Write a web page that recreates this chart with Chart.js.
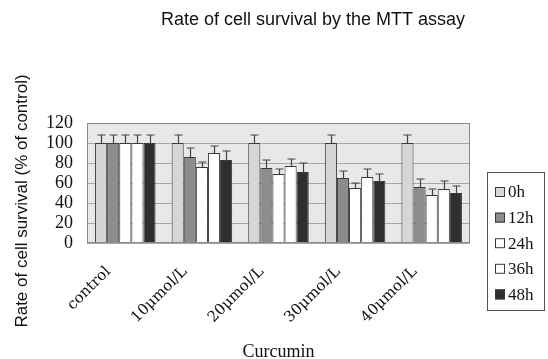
<!DOCTYPE html>
<html>
<head>
<meta charset="utf-8">
<script src="https://cdn.jsdelivr.net/npm/chart.js@4.4.1/dist/chart.umd.min.js"></script>
<style>
  html, body { margin: 0; padding: 0; background: #ffffff; }
  canvas { display: block; }
</style>
</head>
<body>
<canvas id="mttChart" width="548" height="359"></canvas>
<script>
const categories = ["control", "10\u03bcmol/L", "20\u03bcmol/L", "30\u03bcmol/L", "40\u03bcmol/L"];
const timeLabels = ["0h", "12h", "24h", "36h", "48h"];
const survival0h = [100, 100, 100, 100, 100];
const survival12h = [100, 86, 75, 65, 56];
const survival24h = [100, 76, 69, 55, 48];
const survival36h = [100, 90, 77, 66, 54];
const survival48h = [100, 83, 71, 62, 50];
const error0h = [8, 8, 8, 8, 8];
const error12h = [8, 9, 8, 7, 8];
const error24h = [8, 5, 5, 5, 6];
const error36h = [8, 7, 7, 8, 8];
const error48h = [8, 9, 9, 7, 7];
const yTicks = [0, 20, 40, 60, 80, 100, 120];

(function () {
  const edge = "#3a3a3a";
  const fills = ["#d6d6d6", "#8c8c8c", "#ffffff", "#ffffff", "#2f2f2f"];
  const series = [survival0h, survival12h, survival24h, survival36h, survival48h];
  const errors = [error0h, error12h, error24h, error36h, error48h];
  const serif = "'Liberation Serif', 'DejaVu Serif', serif";
  const tickSerif = "'DejaVu Serif', serif";
  const sans = "'Liberation Sans', Arial, sans-serif";

  const plotFrame = {
    id: "plotFrame",
    beforeDraw(chart) {
      const { ctx, chartArea: a } = chart;
      ctx.save();
      ctx.fillStyle = "#e8e8e8";
      ctx.fillRect(a.left, a.top, a.right - a.left, a.bottom - a.top);
      ctx.restore();
    },
    afterDraw(chart) {
      const { ctx, chartArea: a } = chart;
      ctx.save();
      ctx.strokeStyle = "#8a8a8a";
      ctx.lineWidth = 1;
      ctx.strokeRect(a.left + 0.5, a.top + 0.5, a.right - a.left - 1, a.bottom - a.top - 1);

      // chart title and y axis title
      ctx.fillStyle = "#111111";
      ctx.font = "18px " + sans;
      ctx.textAlign = "center";
      ctx.textBaseline = "middle";
      ctx.fillText("Rate of cell survival by the MTT assay", 313, 20);
      ctx.font = "17px " + sans;
      ctx.translate(22, 201);
      ctx.rotate(-Math.PI / 2);
      ctx.fillText("Rate of cell survival (% of control)", 0, 0);
      ctx.restore();

      // legend
      ctx.save();
      ctx.strokeStyle = "#555555";
      ctx.strokeRect(487.5, 172.5, 57, 138);
      ctx.font = "17px " + serif;
      ctx.textAlign = "left";
      ctx.textBaseline = "middle";
      timeLabels.forEach((lab, i) => {
        const y = 192 + i * 25.6;
        ctx.fillStyle = fills[i];
        ctx.fillRect(495, y - 5, 10, 10);
        ctx.strokeStyle = edge;
        ctx.strokeRect(495.5, y - 4.5, 9, 9);
        ctx.fillStyle = "#111111";
        ctx.fillText(lab, 508, y + 1);
      });
      ctx.restore();
    }
  };

  const errorBars = {
    id: "errorBars",
    afterDatasetsDraw(chart) {
      const { ctx } = chart;
      const yScale = chart.scales.y;
      ctx.save();
      ctx.strokeStyle = "#444444";
      ctx.lineWidth = 1.2;
      chart.data.datasets.forEach((ds, di) => {
        const meta = chart.getDatasetMeta(di);
        meta.data.forEach((bar, i) => {
          const top = yScale.getPixelForValue(ds.data[i] + errors[di][i]);
          const x = Math.round(bar.x) + 0.5;
          ctx.beginPath();
          ctx.moveTo(x, bar.y);
          ctx.lineTo(x, top);
          ctx.moveTo(x - 4, top);
          ctx.lineTo(x + 4, top);
          ctx.stroke();
        });
      });
      ctx.restore();
    }
  };

  new Chart(document.getElementById("mttChart").getContext("2d"), {
    type: "bar",
    data: {
      labels: categories,
      datasets: series.map((data, i) => ({
        label: timeLabels[i],
        data,
        backgroundColor: fills[i],
        borderColor: edge,
        borderWidth: 1,
        barPercentage: 1,
        categoryPercentage: 0.79
      }))
    },
    options: {
      responsive: false,
      animation: false,
      layout: { padding: { top: 123, right: 78, left: 0, bottom: 0 } },
      plugins: {
        legend: { display: false },
        tooltip: { enabled: false },
        title: { display: false }
      },
      scales: {
        x: {
          afterFit(scale) { scale.height = 116; },
          grid: { display: false },
          border: { display: false },
          title: {
            display: true,
            text: "Curcumin",
            color: "#111111",
            font: { family: serif, size: 18 },
            padding: { top: 0, bottom: -4 }
          },
          ticks: {
            color: "#111111",
            font: { family: tickSerif, size: 15 },
            minRotation: 45,
            maxRotation: 45,
            labelOffset: -17,
            padding: 12
          }
        },
        y: {
          min: 0,
          max: 120,
          afterFit(scale) { scale.width = 87; },
          afterBuildTicks(scale) { scale.ticks = yTicks.map(v => ({ value: v })); },
          grid: { color: "#a8a8a8", lineWidth: 1, drawTicks: false },
          border: { display: false },
          ticks: {
            autoSkip: false,
            color: "#111111",
            font: { family: serif, size: 18 },
            padding: 14
          }
        }
      }
    },
    plugins: [plotFrame, errorBars]
  });
})();
</script>
</body>
</html>
